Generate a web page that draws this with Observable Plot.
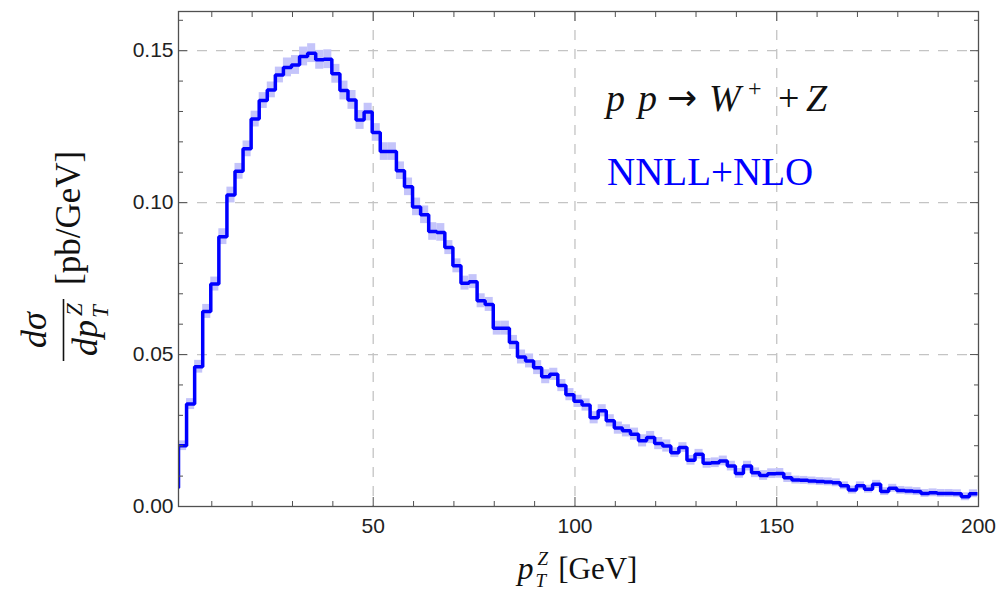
<!DOCTYPE html>
<html><head><meta charset="utf-8">
<script src="https://cdn.jsdelivr.net/npm/d3@7"></script>
<script src="https://cdn.jsdelivr.net/npm/@observablehq/plot@0.6"></script>
<style>html,body{margin:0;padding:0;background:#fff;} svg{display:block}</style>
</head><body><div id="chart"></div>
<script>
// ---- data ----
const binStart = -0.25;   // GeV, left edge of first (partly hidden) bin
const binWidth = 2;       // GeV
const xsec = [
  0.0062, 0.0200, 0.0337, 0.0460, 0.0642, 0.0732, 0.0888, 0.1025, 0.1103, 0.1177,
  0.1275, 0.1336, 0.1371, 0.1420, 0.1445, 0.1453, 0.1481, 0.1492, 0.1470, 0.1472,
  0.1424, 0.1369, 0.1338, 0.1272, 0.1298, 0.1231, 0.1168, 0.1168, 0.1105, 0.1052,
  0.0986, 0.0960, 0.0905, 0.0902, 0.0852, 0.0792, 0.0735, 0.0740, 0.0677, 0.0665,
  0.0587, 0.0587, 0.0540, 0.0492, 0.0479, 0.0457, 0.0427, 0.0435, 0.0398, 0.0368,
  0.0346, 0.0334, 0.0292, 0.0315, 0.0282, 0.0258, 0.0249, 0.0238, 0.0216, 0.0227,
  0.0207, 0.0199, 0.0177, 0.0194, 0.0152, 0.0172, 0.0142, 0.0144, 0.0150, 0.0133,
  0.0109, 0.0133, 0.0111, 0.0102, 0.0108, 0.0109, 0.0095, 0.0087, 0.0086, 0.0084,
  0.0082, 0.0081, 0.0078, 0.0068, 0.0054, 0.0068, 0.0057, 0.0073, 0.0049, 0.0060,
  0.0053, 0.0051, 0.0049, 0.0043, 0.0045, 0.0043, 0.0043, 0.0042, 0.0032, 0.0042
];
const xsecErr = [
  0.0013, 0.0016, 0.0018, 0.0021, 0.0023, 0.0023, 0.0026, 0.0026, 0.0026, 0.0026,
  0.0026, 0.0026, 0.0026, 0.0026, 0.0031, 0.0031, 0.0031, 0.0031, 0.0031, 0.0031,
  0.0031, 0.0031, 0.0031, 0.0031, 0.0029, 0.0029, 0.0029, 0.0029, 0.0029, 0.0029,
  0.0029, 0.0029, 0.0029, 0.0029, 0.0023, 0.0023, 0.0023, 0.0023, 0.0023, 0.0023,
  0.0023, 0.0023, 0.0023, 0.0023, 0.0023, 0.0023, 0.0023, 0.0020, 0.0020, 0.0020,
  0.0020, 0.0020, 0.0020, 0.0020, 0.0020, 0.0020, 0.0020, 0.0020, 0.0020, 0.0020,
  0.0020, 0.0020, 0.0016, 0.0016, 0.0016, 0.0016, 0.0016, 0.0016, 0.0016, 0.0016,
  0.0016, 0.0016, 0.0016, 0.0016, 0.0016, 0.0016, 0.0016, 0.0013, 0.0013, 0.0013,
  0.0013, 0.0013, 0.0013, 0.0013, 0.0013, 0.0013, 0.0013, 0.0013, 0.0013, 0.0013,
  0.0013, 0.0013, 0.0013, 0.0013, 0.0013, 0.0013, 0.0013, 0.0013, 0.0013, 0.0013
];
const xDomain = [1.75, 200];
const yDomain = [0, 0.1629];
const xMajorTicks = [50, 100, 150, 200];
const xMinorTicks = [10, 20, 30, 40, 60, 70, 80, 90, 110, 120, 130, 140, 160, 170, 180, 190];
const yMajorTicks = [0, 0.05, 0.10, 0.15];
const yMinorTicks = [0.01, 0.02, 0.03, 0.04, 0.06, 0.07, 0.08, 0.09, 0.11, 0.12, 0.13, 0.14, 0.16];
const xGrid = [50, 100, 150];
const yGrid = [0.05, 0.10, 0.15];
const orderLabel = "NNLL+NLO";

// ---- derived tables ----
const bins = xsec.map((v, i) => ({lo: binStart + i * binWidth, hi: binStart + (i + 1) * binWidth, v, e: xsecErr[i]}));
const stepPts = bins.flatMap(b => [{x: b.lo, y: b.v}, {x: b.hi, y: b.v}]);

const frameColor = "#505050";
const gridStyle = {stroke: "#c4c4c4", strokeWidth: 1.3, strokeDasharray: "10,9"};

const plot = Plot.plot({
  width: 1006, height: 591,
  marginTop: 11, marginRight: 28, marginBottom: 85, marginLeft: 178,
  x: {domain: xDomain, axis: null},
  y: {domain: yDomain, axis: null},
  style: {background: "#fff", fontFamily: "'Liberation Sans', Arial, sans-serif", fontSize: "21px", color: "#222", overflow: "visible"},
  marks: [
    Plot.ruleX(xGrid, gridStyle),
    Plot.ruleY(yGrid, gridStyle),
    Plot.rect(bins, {x1: "lo", x2: "hi", y1: d => d.v - d.e, y2: d => d.v + d.e, fill: "#c4c4fa", clip: true}),
    Plot.line(stepPts, {x: "x", y: "y", stroke: "#0000ff", strokeWidth: 3.5, strokeLinejoin: "miter", strokeLinecap: "butt", clip: true}),
    Plot.frame({stroke: frameColor, strokeWidth: 1.3}),
    // inward ticks on all four sides
    Plot.axisX(xMinorTicks, {anchor: "bottom", tickSize: -5, tickFormat: () => "", label: null, stroke: frameColor}),
    Plot.axisX(xMajorTicks, {anchor: "bottom", tickSize: -9, tickFormat: () => "", label: null, stroke: frameColor}),
    Plot.axisX(xMinorTicks, {anchor: "top", tickSize: -5, tickFormat: () => "", label: null, stroke: frameColor}),
    Plot.axisX(xMajorTicks, {anchor: "top", tickSize: -9, tickFormat: () => "", label: null, stroke: frameColor}),
    Plot.axisY(yMinorTicks, {anchor: "left", tickSize: -5, tickFormat: () => "", label: null, stroke: frameColor}),
    Plot.axisY(yMajorTicks, {anchor: "left", tickSize: -9, tickFormat: () => "", label: null, stroke: frameColor}),
    Plot.axisY(yMinorTicks, {anchor: "right", tickSize: -5, tickFormat: () => "", label: null, stroke: frameColor}),
    Plot.axisY(yMajorTicks, {anchor: "right", tickSize: -9, tickFormat: () => "", label: null, stroke: frameColor}),
    // tick labels
    Plot.axisX(xMajorTicks, {anchor: "bottom", tickSize: 0, tickPadding: 12, label: null, fill: "#222", tickFormat: d => String(d)}),
    Plot.axisY(yMajorTicks, {anchor: "left", tickSize: 0, tickPadding: 5, label: null, fill: "#222", tickFormat: d => d.toFixed(2)})
  ]
});
document.getElementById("chart").append(plot);

// ---- rich text labels ----
const svg = d3.select(plot);
const serif = "'Liberation Serif','Times New Roman',serif";
function measure(str, size, italic) {
  const t = svg.append("text").text(str).attr("font-family", serif).attr("font-size", size).attr("font-style", italic ? "italic" : "normal");
  const w = t.node().getComputedTextLength();
  t.remove();
  return w;
}
function put(parent, str, x, y, size, italic, fill = "#111", anchor = "start", family = serif) {
  return parent.append("text").text(str).attr("x", x).attr("y", y)
    .attr("font-family", family).attr("font-size", size)
    .attr("font-style", italic ? "italic" : "normal").attr("fill", fill).attr("text-anchor", anchor);
}

// x-axis label: p_T^Z [GeV]
{
  const big = 32, small = 19, base = 579;
  const wp = measure("p", big, true);
  const wZ = measure("Z", small, true), wT = measure("T", small, true);
  const wS = Math.max(wZ, wT) + 1;
  const wG = measure("[GeV]", 31, false);
  const gap = 10;
  const total = wp + 3 + wS + gap + wG;
  let x = 577.5 - total / 2;
  const g = svg.append("g");
  put(g, "p", x, base, big, true); x += wp + 3;
  put(g, "Z", x + 1, base - 14, small, true);
  put(g, "T", x - 1, base + 8, small, true);
  x += wS + gap;
  put(g, "[GeV]", x, base, 31, false);
}

// y-axis label: dσ/dp_T^Z [pb/GeV] (rotated)
{
  const g = svg.append("g").attr("transform", "translate(0,256) rotate(-90)");
  const big = 36, small = 23, cu = -74;
  g.append("line").attr("x1", cu - 31).attr("x2", cu + 31).attr("y1", 63.5).attr("y2", 63.5).attr("stroke", "#111").attr("stroke-width", 1.6);
  put(g, "dσ", cu, 46, big, true, "#111", "middle");
  const wdp = measure("dp", big, true);
  const wS = Math.max(measure("Z", small, true), measure("T", small, true));
  const total = wdp + 3 + wS;
  let u = cu - total / 2;
  put(g, "dp", u, 97, big, true); u += wdp + 3;
  put(g, "Z", u + 1, 82, small, true);
  put(g, "T", u - 1, 108, small, true);
  put(g, "[pb/GeV]", -29, 80, 35, false);
}

// annotation: p p → W⁺ + Z
{
  const g = svg.append("g");
  const size = 38, base = 111;
  put(g, "p", 606, base, size, true);
  put(g, "p", 638, base, size, true);
  put(g, "→", 667, base - 1, 36, false, "#111", "start", "'DejaVu Sans', sans-serif");
  put(g, "W", 709, base, size, true);
  put(g, "+", 748, base - 15, 24, false);
  put(g, "+", 778, base, size, false);
  put(g, "Z", 806, base, size, true);
  put(g, orderLabel, 607, 185, 39, false, "#0000ff");
}
</script>
</body></html>
